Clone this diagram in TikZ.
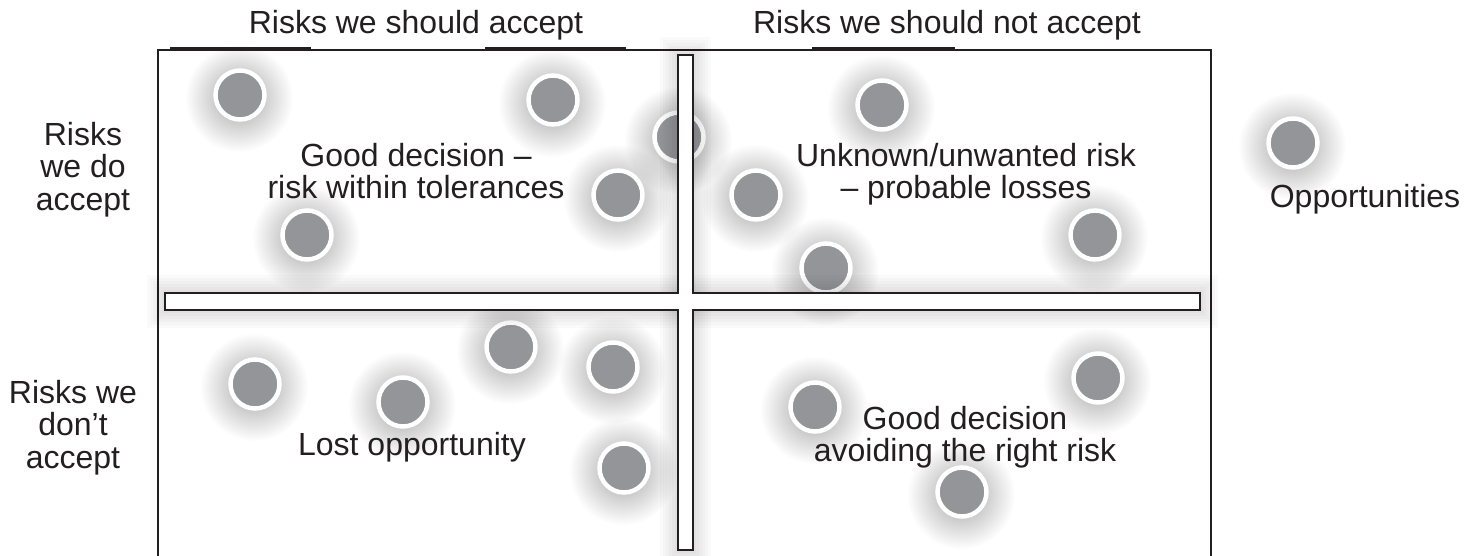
\documentclass[tikz,border=0pt]{standalone}
\usepackage{fontspec}
\setmainfont{Liberation Sans}
\usetikzlibrary{fadings}
\definecolor{ink}{HTML}{231F20}
\definecolor{dot}{HTML}{939598}
\tikzfading[name=glowfade, inner color=transparent!0, outer color=transparent!100]
\tikzset{
  lbl/.style={font=\fontsize{32}{32.5}\selectfont, text=ink, align=center, inner sep=0pt},
  dotnode/.style={circle, fill=dot, draw=white, line width=4.5pt, minimum size=49pt, inner sep=0pt},
  glow/.style={fill=black, fill opacity=0.36, path fading=glowfade},
  edge/.style={draw=ink, line width=2.6pt},
  thickedge/.style={draw=ink, line width=4.5pt},
  barbox/.style={draw=ink, line width=2pt, fill=white},
}
\begin{document}
\begin{tikzpicture}[x=1pt, y=-1pt]
\useasboundingbox (0,0) rectangle (1468,555);
\fill[white] (0,0) rectangle (1468,555);

% circle glows
\foreach \x/\y in {240/95, 553/100, 679/137, 618/195, 307/235, 882/105, 756/195, 1095/235, 826/268, 1293/143, 511/347, 613/367, 255/384, 403/402, 624/468, 1098/378, 815/407, 962/492}
  \fill[glow] (\x-1,\y+3) circle (54);

% frame
\draw[edge] (158,565) -- (158,50) -- (1211,50) -- (1211,565);
\draw[thickedge] (170,48.8) -- (311,48.8);
\draw[thickedge] (485,48.8) -- (626,48.8);
\draw[thickedge] (812,48.8) -- (955,48.8);

% circles
\node[dotnode] (c1) at (240,95) {};
\node[dotnode] (c2) at (553,100) {};
\node[dotnode] (c3) at (679,137) {};
\node[dotnode] (c4) at (618,195) {};
\node[dotnode] (c5) at (307,235) {};
\node[dotnode] (c6) at (882,105) {};
\node[dotnode] (c7) at (756,195) {};
\node[dotnode] (c8) at (1095,235) {};
\node[dotnode] (c9) at (826,268) {};
\node[dotnode] (c10) at (1293,143) {};
\node[dotnode] (c11) at (511,347) {};
\node[dotnode] (c12) at (613,367) {};
\node[dotnode] (c13) at (255,384) {};
\node[dotnode] (c14) at (403,402) {};
\node[dotnode] (c15) at (624,468) {};
\node[dotnode] (c16) at (1098,378) {};
\node[dotnode] (c17) at (815,407) {};
\node[dotnode] (c18) at (962,492) {};

% bar shadows
\foreach \e in {3,6,...,18} {
  \draw[black, opacity=0.018, line width={15+2*\e}] (685.5,55-\e) -- (685.5,550+\e);
  \draw[black, opacity=0.018, line width={17+2*\e}] (165-\e,301.5) -- (1200+\e,301.5);
}

% cross bars
\draw[barbox] (678,55) rectangle (693,550);
\draw[barbox] (165,293) rectangle (1200,310);
\fill[white] (679,291.9) rectangle (692,311.1);

% labels
\node[lbl, anchor=base] (hacc) at (416,33) {Risks we should accept};
\node[lbl, anchor=base] (hnot) at (947,33) {Risks we should not accept};
\node[lbl] (rdo) at (83,169.5) {Risks\\we do\\accept};
\node[lbl] (rdont) at (73,427.5) {Risks we\\don’t\\accept};
\node[lbl] (q1) at (416,171) {Good decision –\\risk within tolerances};
\node[lbl] (q2) at (966,174) {Unknown/unwanted risk\\– probable losses};
\node[lbl, anchor=base] (opp) at (1365,207) {Opportunities};
\node[lbl, anchor=base] (q3) at (412,455) {Lost opportunity};
\node[lbl] (q4) at (965,437) {Good decision\\avoiding the right risk};
\end{tikzpicture}
\end{document}
